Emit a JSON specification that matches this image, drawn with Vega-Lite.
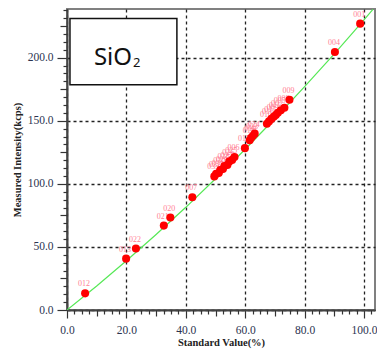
{
  "$schema": "https://vega.github.io/schema/vega-lite/v6.json",
  "autosize": {"type": "none"},
  "padding": {"left": 67, "top": 9, "right": 2, "bottom": 41},
  "width": 308,
  "height": 301,
  "background": "white",
  "config": {"view": {"stroke": "#808080", "strokeWidth": 2}},
  "datasets": {
    "pts": [
      {"id": "001", "x": 98.7, "y": 227},
      {"id": "004", "x": 90.2, "y": 204.5},
      {"id": "009", "x": 74.9, "y": 166.7},
      {"id": "010", "x": 67.3, "y": 147.6},
      {"id": "016", "x": 68.0, "y": 149.5},
      {"id": "017", "x": 68.8, "y": 151.5},
      {"id": "003", "x": 69.6, "y": 153.2},
      {"id": "011", "x": 70.3, "y": 154.5},
      {"id": "002", "x": 71.0, "y": 156.3},
      {"id": "005", "x": 72.0, "y": 158.3},
      {"id": "008", "x": 73.2, "y": 160.3},
      {"id": "018", "x": 61.5, "y": 134.5},
      {"id": "019", "x": 62.0, "y": 136.5},
      {"id": "023", "x": 62.6, "y": 138.2},
      {"id": "024", "x": 63.2, "y": 139.8},
      {"id": "015", "x": 59.9, "y": 128.3},
      {"id": "006", "x": 56.4, "y": 121.2},
      {"id": "025", "x": 55.6, "y": 119.0},
      {"id": "026", "x": 54.6, "y": 117.6},
      {"id": "027", "x": 54.0, "y": 115.0},
      {"id": "028", "x": 53.0, "y": 114.2},
      {"id": "029", "x": 52.5, "y": 111.8},
      {"id": "030", "x": 51.6, "y": 110.9},
      {"id": "031", "x": 51.1, "y": 108.6},
      {"id": "032", "x": 50.2, "y": 107.9},
      {"id": "033", "x": 49.6, "y": 105.9},
      {"id": "007", "x": 42.2, "y": 89.4},
      {"id": "020", "x": 34.8, "y": 73.3},
      {"id": "021", "x": 32.6, "y": 66.9},
      {"id": "022", "x": 23.2, "y": 48.7},
      {"id": "013", "x": 19.9, "y": 40.7},
      {"id": "012", "x": 6.1, "y": 13.2}
    ],
    "curve": [
      {"x": 0, "y": 0},
      {"x": 10, "y": 19.0},
      {"x": 20, "y": 39.0},
      {"x": 30, "y": 59.8},
      {"x": 40, "y": 81.4},
      {"x": 50, "y": 104.0},
      {"x": 60, "y": 127.4},
      {"x": 70, "y": 151.8},
      {"x": 80, "y": 177.0},
      {"x": 90, "y": 203.0},
      {"x": 100, "y": 230.0},
      {"x": 103, "y": 238.3}
    ],
    "box": [{"x1": 1.0, "x2": 37.0, "y1": 178.6, "y2": 231.0}],
    "formula": [{"x": 21.9, "y": 194.4, "label": "SiO"}],
    "sub": [{"x": 22.2, "y": 193.0, "label": "2"}]
  },
  "resolve": {"axis": {"x": "independent", "y": "independent"}},
  "layer": [
    {
      "data": {"name": "curve"},
      "mark": {"type": "line", "color": "#55e855", "strokeWidth": 1.2, "clip": true},
      "encoding": {
        "x": {"field": "x", "type": "quantitative",
          "scale": {"domain": [0, 103.7], "nice": false, "zero": false},
          "axis": {"orient": "bottom", "values": [0, 20, 40, 60, 80, 100], "format": ".1f",
            "grid": true, "gridDash": [3, 3], "gridColor": "#222", "gridWidth": 1.3,
            "tickSize": 8, "tickColor": "#333", "tickWidth": 1.2, "domainColor": "#444", "domainWidth": 2,
            "labelFont": "Liberation Serif", "labelFontSize": 11.5, "labelColor": "#2b3350", "labelPadding": 6,
            "labelFlush": false, "labelOverlap": false,
            "title": "Standard Value(%)", "titleFont": "Liberation Serif", "titleFontSize": 10.5,
            "titleFontWeight": "bold", "titleColor": "#222", "titlePadding": 2}},
        "y": {"field": "y", "type": "quantitative",
          "scale": {"domain": [0, 238.6], "nice": false, "zero": false},
          "axis": {"orient": "left", "values": [0, 50, 100, 150, 200], "format": ".1f",
            "grid": true, "gridDash": [3, 3], "gridColor": "#222", "gridWidth": 1.3,
            "tickSize": 10, "tickColor": "#333", "tickWidth": 1.2, "domainColor": "#444", "domainWidth": 2,
            "labelFont": "Liberation Serif", "labelFontSize": 11.5, "labelColor": "#2b3350", "labelPadding": 4,
            "labelFlush": false, "labelOverlap": false,
            "title": "Measured Intensity(kcps)", "titleFont": "Liberation Serif", "titleFontSize": 10.5,
            "titleFontWeight": "bold", "titleColor": "#222", "titlePadding": 5}}
      }
    },
    {
      "data": {"name": "pts"},
      "mark": {"type": "text", "dy": -9, "dx": -1, "fontSize": 8, "font": "Liberation Serif", "color": "#ff7f95"},
      "encoding": {
        "x": {"field": "x", "type": "quantitative",
          "axis": {"orient": "bottom", "values": [10, 30, 50, 70, 90], "labels": false, "grid": false,
            "domain": false, "tickSize": 6, "tickColor": "#333", "tickWidth": 1.2, "title": null}},
        "y": {"field": "y", "type": "quantitative",
          "axis": {"orient": "left", "values": [25, 75, 125, 175, 225], "labels": false, "grid": false,
            "domain": false, "tickSize": 7, "tickColor": "#333", "tickWidth": 1.2, "title": null}},
        "text": {"field": "id"}
      }
    },
    {
      "data": {"name": "pts"},
      "mark": {"type": "point", "filled": true, "shape": "circle", "size": 65, "color": "#ff0000", "opacity": 1},
      "encoding": {
        "x": {"field": "x", "type": "quantitative",
          "axis": {"orient": "bottom", "values": [2.5, 5, 7.5, 12.5, 15, 17.5, 22.5, 25, 27.5, 32.5, 35, 37.5, 42.5, 45, 47.5, 52.5, 55, 57.5, 62.5, 65, 67.5, 72.5, 75, 77.5, 82.5, 85, 87.5, 92.5, 95, 97.5, 102.5],
            "labels": false, "grid": false, "domain": false, "tickSize": 4, "tickColor": "#333", "tickWidth": 1.2, "title": null}},
        "y": {"field": "y", "type": "quantitative",
          "axis": {"orient": "left", "values": [6.25, 12.5, 18.75, 31.25, 37.5, 43.75, 56.25, 62.5, 68.75, 81.25, 87.5, 93.75, 106.25, 112.5, 118.75, 131.25, 137.5, 143.75, 156.25, 162.5, 168.75, 181.25, 187.5, 193.75, 206.25, 212.5, 218.75, 231.25, 237.5],
            "labels": false, "grid": false, "domain": false, "tickSize": 4, "tickColor": "#333", "tickWidth": 1.2, "title": null}}
      }
    },
    {
      "data": {"name": "box"},
      "mark": {"type": "rect", "fill": "white", "stroke": "#111", "strokeWidth": 1.5},
      "encoding": {
        "x": {"field": "x1", "type": "quantitative", "axis": null},
        "x2": {"field": "x2"},
        "y": {"field": "y1", "type": "quantitative", "axis": null},
        "y2": {"field": "y2"}
      }
    },
    {
      "data": {"name": "formula"},
      "mark": {"type": "text", "font": "Noto Sans", "fontSize": 24, "color": "#111", "align": "right", "baseline": "alphabetic"},
      "encoding": {
        "x": {"field": "x", "type": "quantitative", "axis": null},
        "y": {"field": "y", "type": "quantitative", "axis": null},
        "text": {"field": "label"}
      }
    },
    {
      "data": {"name": "sub"},
      "mark": {"type": "text", "font": "Noto Sans", "fontSize": 13, "color": "#111", "align": "left", "baseline": "alphabetic"},
      "encoding": {
        "x": {"field": "x", "type": "quantitative", "axis": null},
        "y": {"field": "y", "type": "quantitative", "axis": null},
        "text": {"field": "label"}
      }
    }
  ]
}
